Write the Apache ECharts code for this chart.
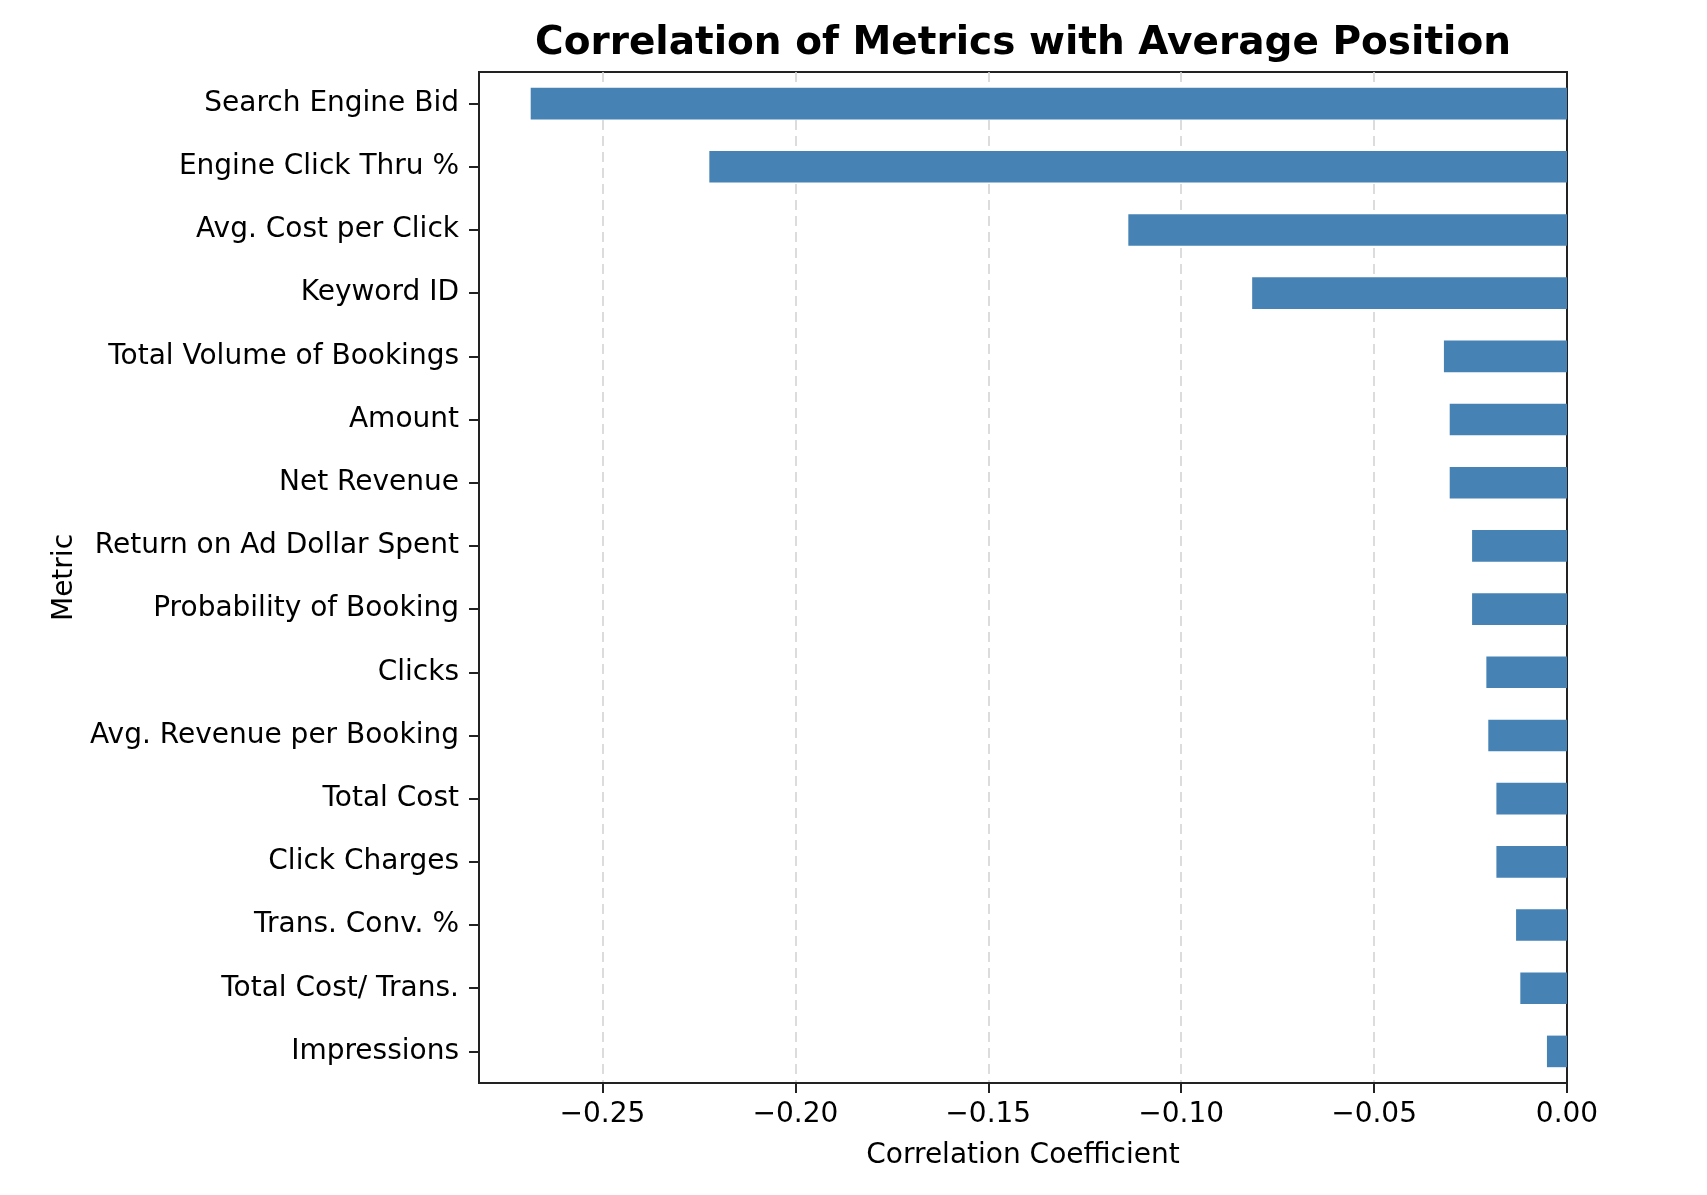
<!DOCTYPE html>
<html>
<head>
<meta charset="utf-8">
<style>
html,body{margin:0;padding:0;background:#fff;}
#chart{width:1707px;height:1195px;}
</style>
<script src="https://cdn.jsdelivr.net/npm/echarts@6/dist/echarts.min.js"></script>
</head>
<body>
<div id="chart"></div>
<script>
const metrics = [
  "Search Engine Bid",
  "Engine Click Thru %",
  "Avg. Cost per Click",
  "Keyword ID",
  "Total Volume of Bookings",
  "Amount",
  "Net Revenue",
  "Return on Ad Dollar Spent",
  "Probability of Booking",
  "Clicks",
  "Avg. Revenue per Booking",
  "Total Cost",
  "Click Charges",
  "Trans. Conv. %",
  "Total Cost/ Trans.",
  "Impressions"
];
const correlations = [
  -0.2686, -0.2223, -0.1137, -0.0816, -0.0319, -0.0304, -0.0304, -0.0246,
  -0.0246, -0.0209, -0.0204, -0.0183, -0.0183, -0.0132, -0.0121, -0.0052
];
const titleText = "Correlation of Metrics with Average Position";
const xName = "Correlation Coefficient";
const yName = "Metric";
const xMin = -0.282;
const xMax = 0;

const FONT = "DejaVu Sans";
const chart = echarts.init(document.getElementById('chart'), null, {renderer: 'canvas'});
chart.setOption({
  backgroundColor: '#ffffff',
  animation: false,
  title: {
    text: titleText,
    left: 1023,
    top: 24,
    textAlign: 'center',
    padding: 0,
    textStyle: {fontFamily: FONT, fontWeight: 'bold', fontSize: 39, color: '#000'}
  },
  grid: {
    left: 479, right: 140, top: 72, bottom: 112,
    show: true, borderColor: '#222', borderWidth: 2, backgroundColor: 'transparent'
  },
  xAxis: {
    type: 'value',
    min: xMin,
    max: xMax,
    splitNumber: 5,
    name: xName,
    nameLocation: 'middle',
    nameGap: 59,
    nameTextStyle: {fontFamily: FONT, fontSize: 28, color: '#000'},
    axisLine: {show: true, onZero: false, lineStyle: {color: '#222', width: 2}},
    axisTick: {show: true, length: 10, lineStyle: {color: '#222', width: 2}},
    axisLabel: {
      show: true, margin: 18, showMinLabel: false,
      fontFamily: FONT, fontSize: 28, color: '#000',
      formatter: function (v) {
        if (Math.abs(v - xMin) < 1e-9) return '';
        return (v < -1e-9 ? '\u2212' : '') + Math.abs(v).toFixed(2);
      }
    },
    splitLine: {show: true, showMinLine: false, showMaxLine: false,
      lineStyle: {color: '#d4d4d4', width: 1.6, type: [10, 6]}}
  },
  yAxis: {
    type: 'category',
    data: metrics,
    inverse: true,
    name: yName,
    nameLocation: 'middle',
    nameGap: 397,
    nameRotate: 90,
    nameTextStyle: {fontFamily: FONT, fontSize: 28, color: '#000'},
    axisLine: {show: true, onZero: false, lineStyle: {color: '#222', width: 2}},
    axisTick: {show: true, alignWithLabel: true, length: 10, lineStyle: {color: '#222', width: 2}},
    axisLabel: {margin: 20, fontFamily: FONT, fontSize: 28, color: '#000', padding: [8, 0, 0, 0]},
    splitLine: {show: false}
  },
  series: [{
    type: 'bar',
    data: correlations,
    barWidth: '50%',
    itemStyle: {color: '#4682b4'}
  }]
});
</script>
</body>
</html>
